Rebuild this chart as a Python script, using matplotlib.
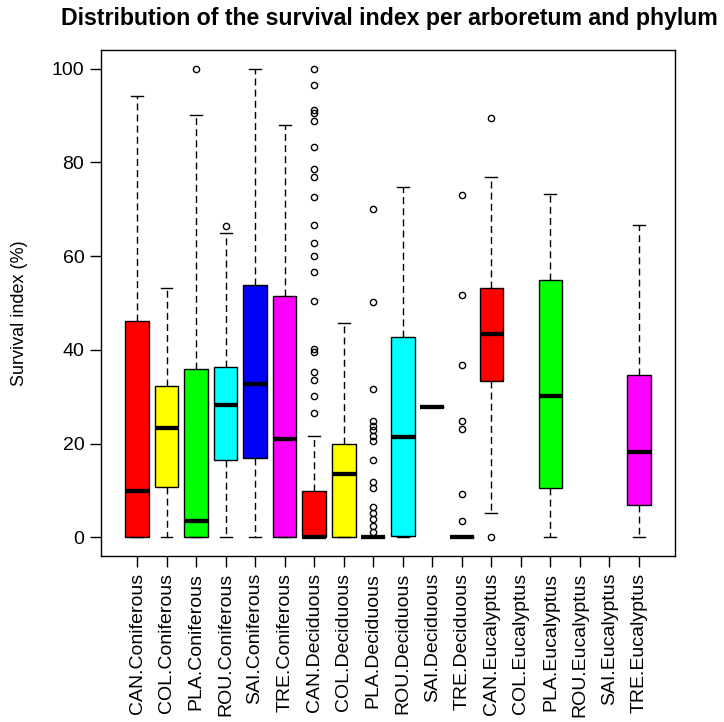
import matplotlib
matplotlib.use("Agg")
import matplotlib.pyplot as plt

plt.rcParams['font.family'] = ['Liberation Sans', 'DejaVu Sans']

# arboretum x phylum groups, in plotting order
categories = ['CAN.Coniferous', 'COL.Coniferous', 'PLA.Coniferous', 'ROU.Coniferous',
              'SAI.Coniferous', 'TRE.Coniferous', 'CAN.Deciduous', 'COL.Deciduous',
              'PLA.Deciduous', 'ROU.Deciduous', 'SAI.Deciduous', 'TRE.Deciduous',
              'CAN.Eucalyptus', 'COL.Eucalyptus', 'PLA.Eucalyptus', 'ROU.Eucalyptus',
              'SAI.Eucalyptus', 'TRE.Eucalyptus']

# box statistics (None = no data for that group)
q1 = [0, 10.7, 0, 16.6, 16.9, 0, 0, 0, 0, 0.3, 27.7, 0,
      33.4, None, 10.5, None, None, 6.8]
med = [9.8, 23.3, 3.5, 28.3, 32.7, 20.9, 0, 13.6, 0, 21.4, 27.7, 0,
       43.4, None, 30.1, None, None, 18.3]
q3 = [46.1, 32.3, 36.0, 36.3, 53.9, 51.5, 9.8, 19.9, 0, 42.7, 27.7, 0,
      53.2, None, 54.9, None, None, 34.6]
whislo = [0, 0, 0, 0, 0, 0, 0, 0, 0, 0, 27.7, 0,
          5.1, None, 0, None, None, 0]
whishi = [94.1, 53.2, 90.1, 65.0, 100, 88.1, 21.6, 45.8, 0, 74.7, 27.7, 0,
          76.8, None, 73.3, None, None, 66.7]
outliers = [
    [], [], [100], [66.4], [], [],
    [100, 96.5, 91.2, 90.6, 88.9, 83.4, 78.7, 77.0, 72.7, 66.7, 62.8, 60.0,
     56.6, 50.5, 40.2, 39.5, 35.2, 33.5, 30.1, 26.6],
    [],
    [70.1, 50.2, 31.7, 24.9, 23.8, 22.8, 21.6, 20.6, 16.6, 11.8, 10.6, 6.5,
     5.2, 3.8, 2.4, 1.2],
    [], [],
    [73.1, 51.8, 36.7, 24.9, 23.2, 9.3, 3.5],
    [89.5, 0], [], [], [], [], [],
]

arbo_colors = ['#FF0000', '#FFFF00', '#00FF00', '#00FFFF', '#0000FF', '#FF00FF']

fig = plt.figure(figsize=(7.24, 7.22), dpi=100)
ax = fig.add_axes([0.1395, 0.2299, 0.7928, 0.7008])

stats, positions, colors = [], [], []
for i, name in enumerate(categories):
    if med[i] is None:
        continue
    stats.append(dict(label=name, q1=q1[i], med=med[i], q3=q3[i],
                      whislo=whislo[i], whishi=whishi[i], fliers=outliers[i]))
    positions.append(i + 1)
    colors.append(arbo_colors[i % 6])

bp = ax.bxp(stats, positions=positions, widths=0.8, patch_artist=True,
            boxprops=dict(edgecolor='black', linewidth=1),
            medianprops=dict(color='black', linewidth=3.1, solid_capstyle='butt'),
            whiskerprops=dict(color='black', linewidth=1, linestyle=(0, (5, 3))),
            capprops=dict(color='black', linewidth=1),
            capwidths=0.4,
            flierprops=dict(marker='o', markersize=4.5, markerfacecolor='none',
                            markeredgecolor='black', markeredgewidth=1))
for box, c in zip(bp['boxes'], colors):
    box.set_facecolor(c)

ax.set_xlim(-0.22, 19.22)
ax.set_ylim(-4, 104)
ax.set_xticks(range(1, len(categories) + 1))
ax.set_xticklabels(categories, rotation=90, fontsize=14)
ax.set_yticks([0, 20, 40, 60, 80, 100])
ax.tick_params(axis='y', labelsize=14, length=8, width=1, pad=4)
ax.tick_params(axis='x', length=8, width=1, pad=4)
for s in ax.spines.values():
    s.set_linewidth(1)
    s.set_color('black')

ax.set_ylabel('Survival index (%)', fontsize=13)
ax.yaxis.set_label_coords(-0.127, 0.48)
fig.text(0.538, 0.975, 'Distribution of the survival index per arboretum and phylum',
         ha='center', va='center', fontsize=16.7, fontweight='bold')

fig.savefig('out.png', dpi=100)
